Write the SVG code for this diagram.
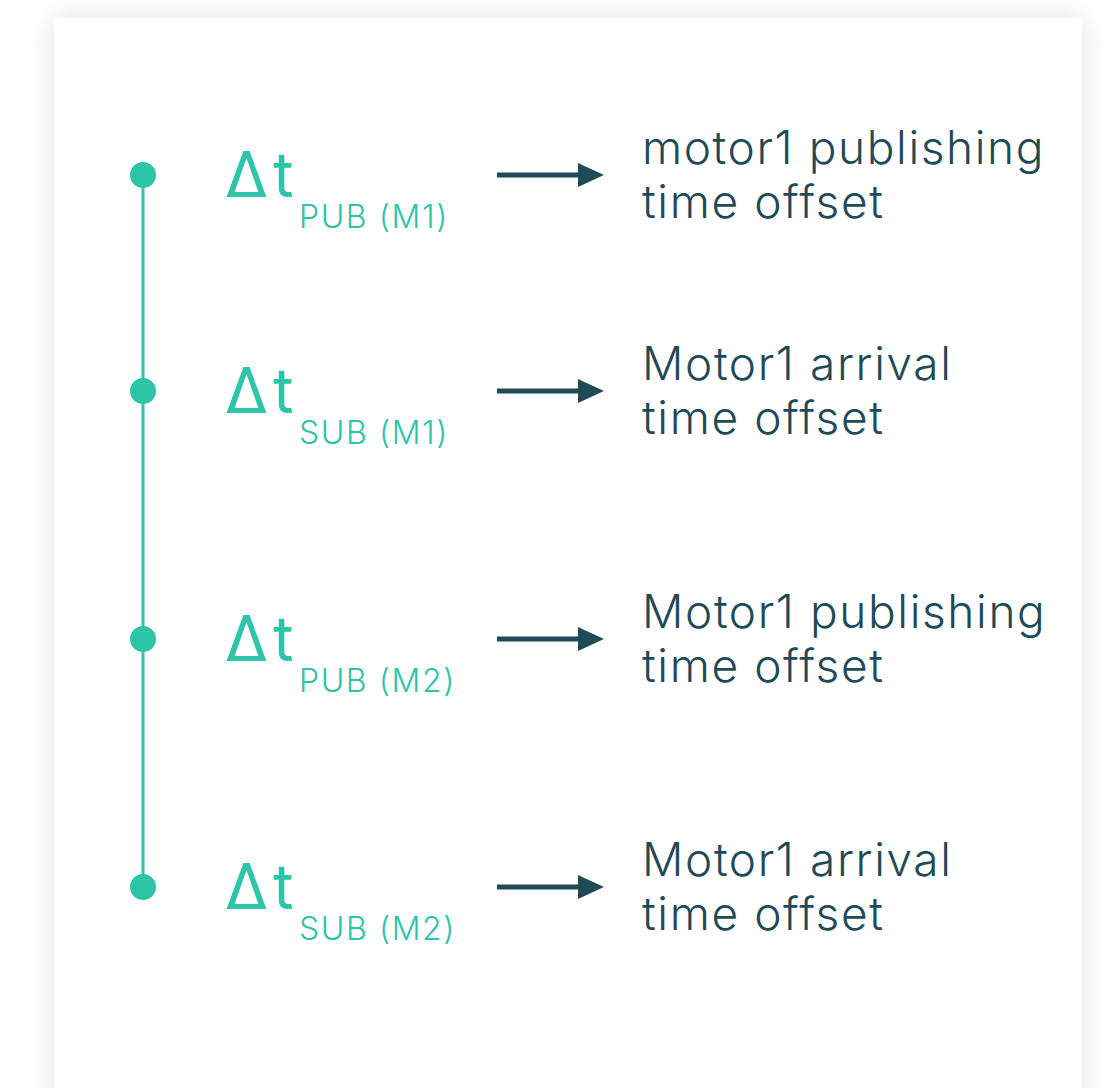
<svg xmlns="http://www.w3.org/2000/svg" width="1108" height="1088" viewBox="0 0 1108 1088">
  <defs>
    <filter id="shadow" x="-10%" y="-10%" width="120%" height="120%">
      <feGaussianBlur in="SourceAlpha" stdDeviation="14"/>
      <feComponentTransfer><feFuncA type="linear" slope="0.12"/></feComponentTransfer>
      <feMerge><feMergeNode/><feMergeNode in="SourceGraphic"/></feMerge>
    </filter>
    <marker id="head" viewBox="0 0 26 24" refX="0" refY="12" markerWidth="26" markerHeight="24" markerUnits="userSpaceOnUse" orient="auto">
      <path d="M0 0 L26 12 L0 24 Z" fill="#1f4a57"/>
    </marker>
  </defs>
  <style>
    .delta { font-family: Inter, "Liberation Sans", sans-serif; font-weight: 400; font-size: 63px; letter-spacing: 5px; fill: #2ec4a9; }
    .sub { font-family: Inter, "Liberation Sans", sans-serif; font-weight: 300; font-size: 32px; letter-spacing: 1.6px; fill: #2ec4a9; }
    .desc { font-family: Inter, "Liberation Sans", sans-serif; font-weight: 300; font-size: 46px; letter-spacing: 1.6px; fill: #1f4a57; }
    .dot { fill: #2ec4a9; }
    .arrow { stroke: #1f4a57; stroke-width: 5; fill: none; marker-end: url(#head); }
  </style>
  <rect width="1108" height="1088" fill="#ffffff"/>
  <!-- card -->
  <rect x="54" y="18" width="1028" height="1100" fill="#ffffff" filter="url(#shadow)"/>

  <!-- timeline spine -->
  <line x1="143" y1="175" x2="143" y2="887" stroke="#2ec4a9" stroke-width="3"/>

  <g id="pub-m1">
    <circle class="dot" cx="143" cy="175" r="13"/>
    <text class="delta" x="225" y="197">Δt</text>
    <text class="sub" x="299" y="228">PUB (M1)</text>
    <text class="desc" x="642" y="164">motor1 publishing</text>
    <text class="desc" x="642" y="218">time offset</text>
  </g>
  <g id="sub-m1">
    <circle class="dot" cx="143" cy="391" r="13"/>
    <text class="delta" x="225" y="413">Δt</text>
    <text class="sub" x="299" y="444">SUB (M1)</text>
    <text class="desc" x="642" y="380">Motor1 arrival</text>
    <text class="desc" x="642" y="434">time offset</text>
  </g>
  <g id="pub-m2">
    <circle class="dot" cx="143" cy="639" r="13"/>
    <text class="delta" x="225" y="661">Δt</text>
    <text class="sub" x="299" y="692">PUB (M2)</text>
    <text class="desc" x="642" y="628">Motor1 publishing</text>
    <text class="desc" x="642" y="682">time offset</text>
  </g>
  <g id="sub-m2">
    <circle class="dot" cx="143" cy="887" r="13"/>
    <text class="delta" x="225" y="909">Δt</text>
    <text class="sub" x="299" y="940">SUB (M2)</text>
    <text class="desc" x="642" y="876">Motor1 arrival</text>
    <text class="desc" x="642" y="930">time offset</text>
  </g>

  <g id="connectors">
    <line class="arrow" x1="497" y1="175" x2="578" y2="175"/>
    <line class="arrow" x1="497" y1="391" x2="578" y2="391"/>
    <line class="arrow" x1="497" y1="639" x2="578" y2="639"/>
    <line class="arrow" x1="497" y1="887" x2="578" y2="887"/>
  </g>
</svg>
